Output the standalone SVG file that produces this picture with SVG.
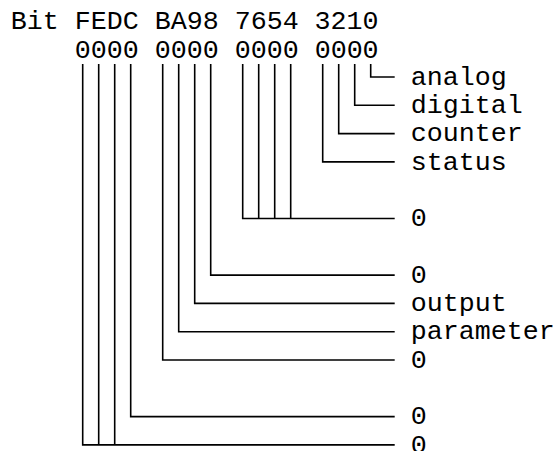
<svg xmlns="http://www.w3.org/2000/svg" width="555" height="451" viewBox="0 0 555 451">
  <style>
    text { font-family: "Liberation Mono", "Courier New", monospace; font-size: 26.67px; fill: #000; white-space: pre; }
    .wire { fill: none; stroke: #000; stroke-width: 1.6; }
  </style>
  <rect width="555" height="451" fill="#fff"/>

  <!-- header: bit numbers and default values -->
  <g id="header">
    <text x="10.7" y="29.3">Bit FEDC BA98 7654 3210</text>
    <text x="74.7" y="57.6">0000 0000 0000 0000</text>
  </g>

  <!-- bit wires: each runs down from its digit and turns right to its label -->
  <g id="connectors" class="wire">
    <path d="M370.7 64 V77 H394.7"/>
    <path d="M354.7 64 V105.3 H394.7"/>
    <path d="M338.7 64 V133.6 H394.7"/>
    <path d="M322.7 64 V161.9 H394.7"/>
    <path d="M242.7 64 V218.5 H394.7 M258.7 64 V218.5 M274.7 64 V218.5 M290.7 64 V218.5"/>
    <path d="M210.7 64 V275.1 H394.7"/>
    <path d="M194.7 64 V303.4 H394.7"/>
    <path d="M178.7 64 V331.7 H394.7"/>
    <path d="M162.7 64 V360 H394.7"/>
    <path d="M130.7 64 V416.6 H394.7"/>
    <path d="M82.7 64 V444.9 H394.7 M98.7 64 V444.9 M114.7 64 V444.9"/>
  </g>

  <g id="bit0"><text x="410.7" y="84.7">analog</text></g>
  <g id="bit1"><text x="410.7" y="113">digital</text></g>
  <g id="bit2"><text x="410.7" y="141.3">counter</text></g>
  <g id="bit3"><text x="410.7" y="169.6">status</text></g>
  <g id="bits4-7"><text x="410.7" y="226.2">0</text></g>
  <g id="bit8"><text x="410.7" y="282.8">0</text></g>
  <g id="bit9"><text x="410.7" y="311.1">output</text></g>
  <g id="bitA"><text x="410.7" y="339.4">parameter</text></g>
  <g id="bitB"><text x="410.7" y="367.7">0</text></g>
  <g id="bitC"><text x="410.7" y="424.3">0</text></g>
  <g id="bitsD-F"><text x="410.7" y="452.6">0</text></g>
</svg>
